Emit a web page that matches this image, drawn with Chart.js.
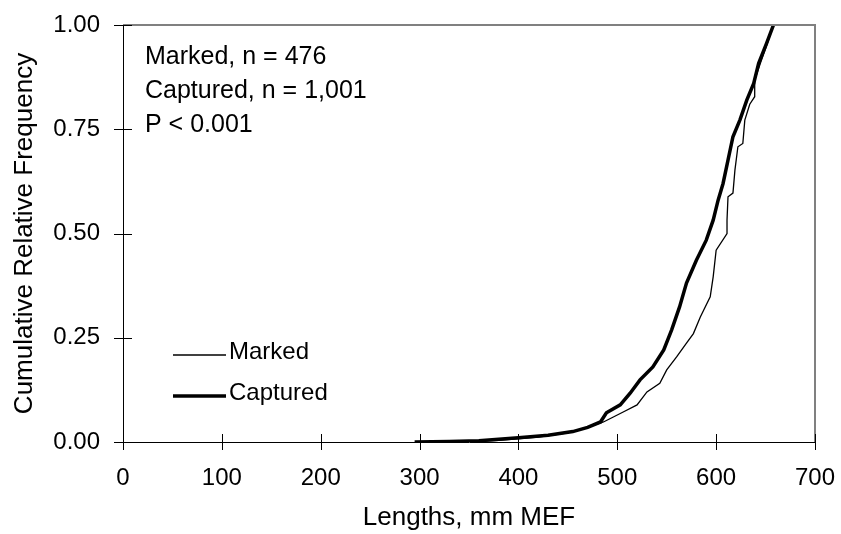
<!DOCTYPE html>
<html>
<head>
<meta charset="utf-8">
<script src="https://cdn.jsdelivr.net/npm/chart.js@4/dist/chart.umd.min.js"></script>
<style>
  html, body { margin: 0; padding: 0; background: #fff; }
  #wrap { width: 841px; height: 534px; }
</style>
</head>
<body>
<div id="wrap"><canvas id="cdf"></canvas></div>
<script>
// lengths (mm MEF) and cumulative relative frequency
const capturedLengths = [295, 330, 360, 400, 430, 455, 470, 483, 489, 503, 513, 523, 536, 547, 555, 563, 570, 580, 590, 597, 602, 607, 612, 617, 624, 631, 638, 643, 651, 658];
const capturedFreq    = [0, 0.001, 0.003, 0.010, 0.016, 0.025, 0.035, 0.048, 0.07, 0.089, 0.117, 0.149, 0.18, 0.221, 0.269, 0.324, 0.381, 0.436, 0.484, 0.532, 0.58, 0.62, 0.676, 0.732, 0.772, 0.82, 0.86, 0.908, 0.956, 1.0];

const markedLengths = [345, 380, 420, 450, 470, 486, 496, 506, 520, 530, 543, 550, 560, 570, 577, 584, 594, 597, 600, 611, 611, 612, 617, 619, 622, 627, 629, 634, 639, 639, 645, 651, 658];
const markedFreq    = [0, 0.004, 0.012, 0.022, 0.035, 0.048, 0.06, 0.072, 0.089, 0.12, 0.141, 0.173, 0.204, 0.237, 0.26, 0.30, 0.348, 0.396, 0.46, 0.50, 0.532, 0.588, 0.597, 0.652, 0.708, 0.716, 0.772, 0.81, 0.828, 0.868, 0.91, 0.95, 1.0];

const xTicks = [0, 100, 200, 300, 400, 500, 600, 700];
const yTicks = [0, 0.25, 0.5, 0.75, 1];
const noteLines = ["Marked, n = 476", "Captured, n = 1,001", "P < 0.001"];

const FONT = "'Liberation Sans', Arial, sans-serif";

function toPoints(xs, ys) {
  return xs.map((x, i) => ({ x: x, y: ys[i] }));
}

// frame, crossing tick marks, note text and the legend inside the plot
const decorations = {
  id: "decorations",
  afterDraw(chart) {
    const ctx = chart.ctx;
    const a = chart.chartArea;
    const xs = chart.scales.x, ys = chart.scales.y;
    ctx.save();

    ctx.strokeStyle = "#808080";
    ctx.lineWidth = 2;
    ctx.beginPath();
    ctx.moveTo(a.left, a.top);
    ctx.lineTo(a.right, a.top);
    ctx.lineTo(a.right, a.bottom);
    ctx.stroke();

    ctx.strokeStyle = "#000";
    ctx.lineWidth = 1;
    ctx.beginPath();
    xTicks.forEach(v => {
      const px = Math.round(xs.getPixelForValue(v)) + 0.5;
      ctx.moveTo(px, a.bottom - 8);
      ctx.lineTo(px, a.bottom + 8);
    });
    yTicks.forEach(v => {
      const py = Math.round(ys.getPixelForValue(v)) + 0.5;
      ctx.moveTo(a.left - 9, py);
      ctx.lineTo(a.left + 9, py);
    });
    ctx.stroke();

    ctx.fillStyle = "#000";
    ctx.textBaseline = "middle";
    ctx.textAlign = "left";
    ctx.font = "25px " + FONT;
    noteLines.forEach((t, i) => ctx.fillText(t, a.left + 22, a.top + 32 + i * 34));

    ctx.font = "24px " + FONT;
    chart.data.datasets.forEach((ds, i) => {
      const y = a.top + 327 + i * 41;
      ctx.strokeStyle = ds.borderColor;
      ctx.lineWidth = ds.borderWidth;
      ctx.beginPath();
      ctx.moveTo(a.left + 50, y + 3);
      ctx.lineTo(a.left + 103, y + 3);
      ctx.stroke();
      ctx.fillText(ds.label, a.left + 106, y);
    });
    ctx.restore();
  }
};

new Chart(document.getElementById("cdf"), {
  type: "line",
  data: {
    datasets: [
      {
        label: "Marked",
        data: toPoints(markedLengths, markedFreq),
        borderColor: "#000",
        borderWidth: 1.3,
        pointRadius: 0,
        tension: 0
      },
      {
        label: "Captured",
        data: toPoints(capturedLengths, capturedFreq),
        borderColor: "#000",
        borderWidth: 3.5,
        pointRadius: 0,
        tension: 0
      }
    ]
  },
  options: {
    responsive: true,
    maintainAspectRatio: false,
    animation: false,
    layout: { padding: { top: 25, right: 26, left: 0, bottom: 0 } },
    plugins: { legend: { display: false }, tooltip: { enabled: false } },
    scales: {
      x: {
        type: "linear",
        min: 0,
        max: 700,
        afterBuildTicks: s => { s.ticks = xTicks.map(v => ({ value: v })); },
        afterFit: s => { s.height = 92; s.paddingLeft = 0; s.paddingRight = 0; },
        grid: { display: true, drawOnChartArea: false, drawTicks: false, color: "transparent" },
        border: { display: true, color: "#000", width: 1 },
        ticks: { padding: 22, color: "#000", font: { family: FONT, size: 24 } },
        title: { display: true, text: "Lengths, mm MEF", color: "#000", font: { family: FONT, size: 26 }, padding: { bottom: 1 } }
      },
      y: {
        type: "linear",
        min: 0,
        max: 1,
        afterBuildTicks: s => { s.ticks = yTicks.map(v => ({ value: v })); },
        afterFit: s => { s.width = 123; s.paddingTop = 0; s.paddingBottom = 0; },
        grid: { display: true, drawOnChartArea: false, drawTicks: false, color: "transparent" },
        border: { display: true, color: "#000", width: 1 },
        ticks: { padding: 23, color: "#000", font: { family: FONT, size: 24 }, callback: v => v.toFixed(2) },
        title: { display: true, text: "Cumulative Relative Frequency", color: "#000", font: { family: FONT, size: 26 }, padding: { top: 9 } }
      }
    }
  },
  plugins: [decorations]
});
</script>
</body>
</html>
